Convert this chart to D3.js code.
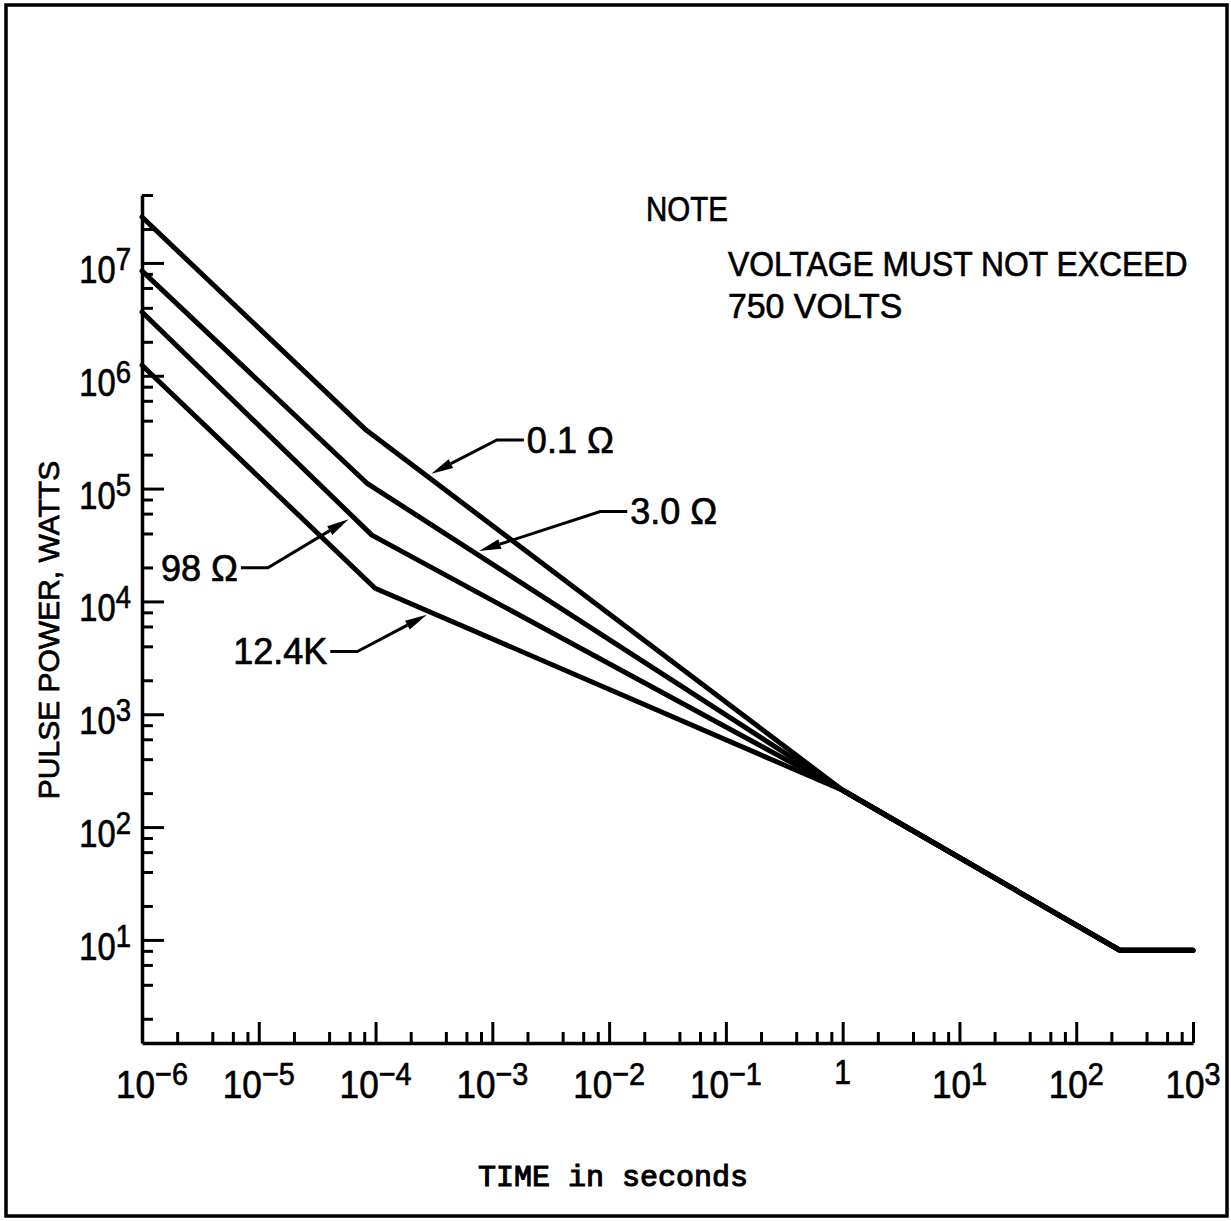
<!DOCTYPE html>
<html>
<head>
<meta charset="utf-8">
<script src="https://cdn.jsdelivr.net/npm/d3@7/dist/d3.min.js"></script>
<style>
  html, body { margin: 0; background: #fff; }
  svg { display: block; }
  text { font-family: "Liberation Sans", Arial, sans-serif; fill: #000; stroke: #000; stroke-width: 0.7px; }
  text.mono { font-family: "Liberation Mono", "Courier New", "DejaVu Sans Mono", monospace; stroke-width: 1.1px; }
</style>
</head>
<body>
<svg id="chart" width="1231" height="1221"></svg>
<script>
// Pulse power vs. time, log-log. Four load curves that merge near 1 s.
const seriesNames = ['0.1 Ω', '3.0 Ω', '98 Ω', '12.4K'];
const startTime   = 1e-6;
const startPower  = [2.55e7, 8.5e6, 3.67e6, 1.24e6];
const kneeTime    = [8.3e-5, 8.4e-5, 9.3e-5, 9.9e-5];
const kneePower   = [3.3e5, 1.12e5, 3.87e4, 1.31e4];
// shared tail after the curves come together
const tailTime    = [1, 236, 1000];
const tailPower   = [212, 8.1, 8.1];
// where each callout arrow meets its curve (seconds)
const calloutTime = [2.75e-4, 7.0e-4, 6.4e-5, 3.0e-4];

const xTickExps  = [-6, -5, -4, -3, -2, -1, 0, 1, 2, 3];
const yTickExps  = [1, 2, 3, 4, 5, 6, 7];
const minorMults = [2, 4, 6, 8];
const noteLines  = ['NOTE', 'VOLTAGE MUST NOT EXCEED', '750 VOLTS'];
const yTitle = 'PULSE POWER, WATTS';
const xTitle = 'TIME in seconds';

const svg = d3.select('#chart');
const x = d3.scaleLog().domain([1e-6, 1e3]).range([142, 1193]);
const y = d3.scaleLog().domain([1.22, 4e7]).range([1043, 195]);

// page frame
svg.append('rect').attr('x', 6).attr('y', 5).attr('width', 1221).attr('height', 1211)
  .attr('fill', 'none').attr('stroke', '#000').attr('stroke-width', 3.5);

const approx = (v, d) => v >= d[0] * 0.999 && v <= d[1] * 1.001;
const minorsFor = (exps, dom) => exps.flatMap((e) => minorMults.map((m) => m * Math.pow(10, e)))
  .filter((v) => approx(v, dom));

const yMinor = minorsFor(d3.range(0, 8), y.domain());
const xMinor = minorsFor(d3.range(-6, 3), x.domain());

function styleAxis(g, keepDomain) {
  g.selectAll('.tick line').attr('stroke', '#000').attr('stroke-width', 3);
  g.selectAll('.tick text').remove();
  if (keepDomain) g.select('.domain').attr('stroke', '#000').attr('stroke-width', 3.5);
  else g.select('.domain').remove();
}

// y axis
svg.append('g').attr('transform', 'translate(142,0)')
  .call(d3.axisRight(y).tickValues(yMinor).tickSize(11).tickSizeOuter(0).tickFormat(''))
  .call((g) => styleAxis(g, false));
svg.append('g').attr('transform', 'translate(142,0)')
  .call(d3.axisRight(y).tickValues(yTickExps.map((e) => Math.pow(10, e))).tickSize(22).tickSizeOuter(0).tickFormat(''))
  .call((g) => styleAxis(g, true));

// x axis
svg.append('g').attr('transform', 'translate(0,1043)')
  .call(d3.axisTop(x).tickValues(xMinor).tickSize(11).tickSizeOuter(0).tickFormat(''))
  .call((g) => styleAxis(g, false));
svg.append('g').attr('transform', 'translate(0,1043)')
  .call(d3.axisTop(x).tickValues(xTickExps.map((e) => Math.pow(10, e))).tickSize(21).tickSizeOuter(0).tickFormat(''))
  .call((g) => styleAxis(g, true));

// tick labels
yTickExps.forEach((e) => {
  const t = svg.append('text')
    .attr('transform', `translate(131,${y(Math.pow(10, e)) + 20}) scale(0.86,1)`)
    .attr('text-anchor', 'end').attr('font-size', 38);
  t.append('tspan').text('10');
  t.append('tspan').attr('dy', -13).attr('font-size', 32).text(String(e));
});
xTickExps.forEach((e, i) => {
  const cx = x(Math.pow(10, e)) + (i === 0 ? 10 : 0);
  if (e === 0) {
    svg.append('text').attr('transform', `translate(${cx},1084) scale(0.86,1)`)
      .attr('text-anchor', 'middle').attr('font-size', 35).text('1');
    return;
  }
  const t = svg.append('text')
    .attr('transform', `translate(${cx},1098) scale(0.9,1)`)
    .attr('text-anchor', 'middle').attr('font-size', 39);
  t.append('tspan').text('10');
  t.append('tspan').attr('dy', -13).attr('font-size', 32).text(e < 0 ? '\u2212' + (-e) : String(e));
});

// axis titles
svg.append('text').attr('transform', 'translate(59,630) rotate(-90)')
  .attr('text-anchor', 'middle').attr('font-size', 30).text(yTitle);
svg.append('text').attr('class', 'mono').attr('x', 613).attr('y', 1186).attr('text-anchor', 'middle')
  .attr('font-size', 30).text(xTitle);

// note block (condensed lettering)
const noteLayout = [[646, 221, 0.82], [728, 276, 0.885], [728, 318, 0.94]];
noteLines.forEach((s, i) => {
  const [nx, ny, sx] = noteLayout[i];
  svg.append('text').attr('transform', `translate(${nx},${ny}) scale(${sx},1)`)
    .attr('font-size', 36).text(s);
});

// curves
const series = seriesNames.map((name, i) => ({
  name,
  points: [[startTime, startPower[i]], [kneeTime[i], kneePower[i]]]
    .concat(tailTime.map((t, j) => [t, tailPower[j]])),
}));
const line = d3.line().x((d) => x(d[0])).y((d) => y(d[1]));
svg.append('g').selectAll('path').data(series).enter().append('path')
  .attr('d', (s) => line(s.points))
  .attr('fill', 'none').attr('stroke', '#000').attr('stroke-width', 5)
  .attr('stroke-linejoin', 'round').attr('stroke-linecap', 'round');

// power on a curve at time t (straight in log-log between points)
function powerAt(points, t) {
  const lt = Math.log10(t);
  for (let k = 0; k < points.length - 1; k++) {
    const a = points[k], b = points[k + 1];
    const la = Math.log10(a[0]), lb = Math.log10(b[0]);
    if (lt >= la && lt <= lb) {
      const f = (lt - la) / (lb - la);
      return Math.pow(10, Math.log10(a[1]) + f * (Math.log10(b[1]) - Math.log10(a[1])));
    }
  }
  return points[points.length - 1][1];
}

// callouts: elbow offset from the curve point, leader goes sideways to the text
const calloutLayout = [
  { dx: 70, dy: -36, side: 1 },
  { dx: 126, dy: -41, side: 1 },
  { dx: -85, dy: 51, side: -1 },
  { dx: -74, dy: 39, side: -1 },
];
series.forEach((s, i) => {
  const L = calloutLayout[i];
  const px = x(calloutTime[i]);
  const py = y(powerAt(s.points, calloutTime[i]));
  const ex = px + L.dx, ey = py + L.dy;
  const len = Math.hypot(L.dx, L.dy);
  const ux = L.dx / len, uy = L.dy / len;
  const tx = px + ux * 5, ty = py + uy * 5; // stop at the stroke edge
  const hx = tx + ux * 22, hy = ty + uy * 22;
  const g = svg.append('g');
  g.append('path')
    .attr('d', `M${hx},${hy}L${ex},${ey}L${ex + L.side * 27},${ey}`)
    .attr('fill', 'none').attr('stroke', '#000').attr('stroke-width', 3);
  g.append('path')
    .attr('d', `M${tx},${ty}L${hx - uy * 5},${hy + ux * 5}L${hx + uy * 5},${hy - ux * 5}Z`)
    .attr('fill', '#000');
  g.append('text')
    .attr('x', ex + L.side * 30).attr('y', ey + 13)
    .attr('text-anchor', L.side > 0 ? 'start' : 'end')
    .attr('font-size', 36).text(s.name);
});
</script>
</body>
</html>
